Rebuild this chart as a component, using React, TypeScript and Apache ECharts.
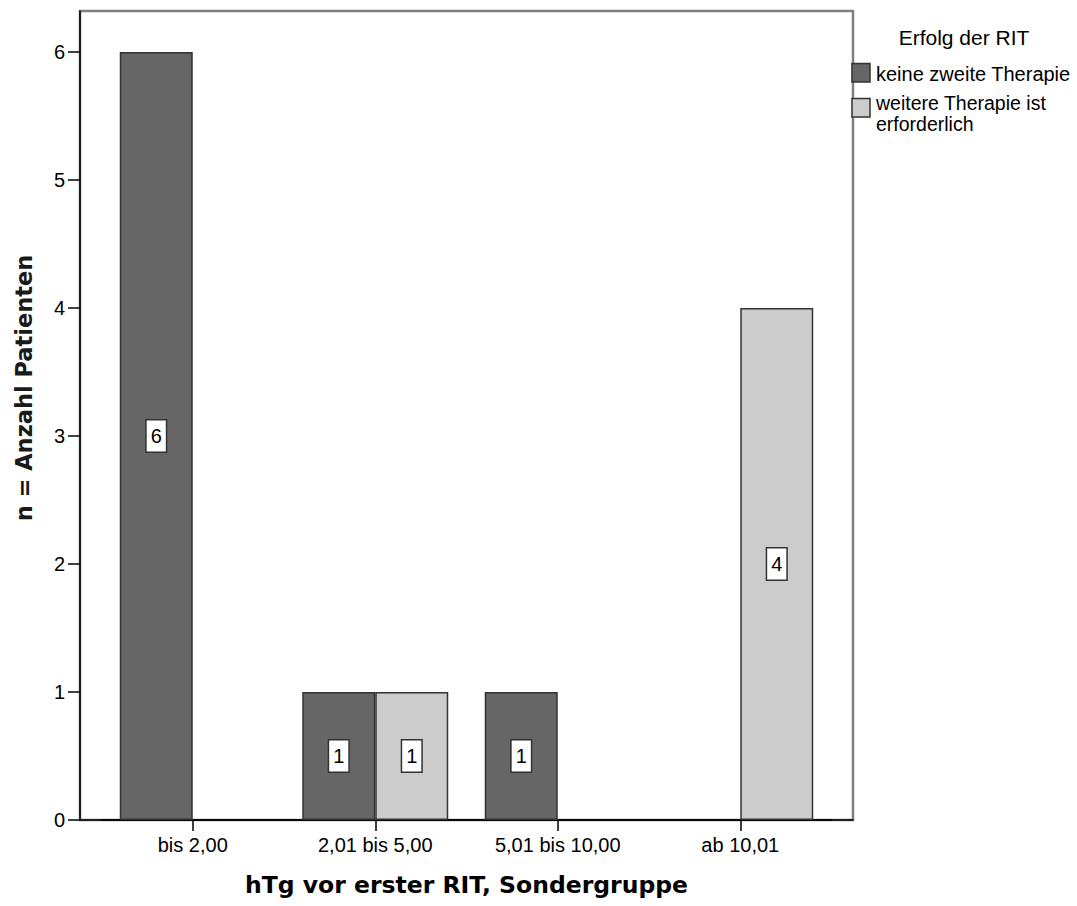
import React, { useEffect, useRef } from "react";
import * as echarts from "echarts";

// Categories of hTg before the first RIT (special group)
const categories = ["bis 2,00", "2,01 bis 5,00", "5,01 bis 10,00", "ab 10,01"];
// Patient counts per outcome; null = no bar in that category
const keineZweiteTherapie: (number | null)[] = [6, 1, 1, null];
const weitereTherapie: (number | null)[] = [null, 1, null, 4];
const seriesNames = ["keine zweite Therapie", "weitere Therapie ist\nerforderlich"];
const yTicks = [0, 1, 2, 3, 4, 5, 6];

const SANS = '"Liberation Sans", Arial, sans-serif';
const BOLD = '"DejaVu Sans", sans-serif';
const DARK = "#666666";
const LIGHT = "#cccccc";

const labelStyle = {
  show: true,
  position: "inside",
  formatter: "{c}",
  color: "#000",
  fontFamily: SANS,
  fontSize: 20,
  backgroundColor: "#ffffff",
  borderColor: "#333333",
  borderWidth: 1.5,
  padding: [6, 4, 5, 4],
};

export default function App() {
  const ref = useRef<HTMLDivElement>(null);

  useEffect(() => {
    if (!ref.current) return;
    const chart = echarts.init(ref.current, null, { renderer: "svg" });
    chart.setOption({
      animation: false,
      backgroundColor: "#ffffff",
      textStyle: { fontFamily: SANS },
      grid: [
        { left: 101.5, top: 11, width: 730, height: 809, outerBoundsMode: "none", containLabel: false },
        {
          left: 80, top: 11, width: 773, height: 809, outerBoundsMode: "none", containLabel: false,
          show: true, borderColor: "#808080", borderWidth: 2.5, backgroundColor: "transparent",
        },
      ],
      xAxis: [
        {
          type: "category",
          gridIndex: 0,
          data: categories,
          axisLine: { show: true, lineStyle: { color: "#000", width: 1.5 } },
          axisTick: { show: true, alignWithLabel: true, length: 11, lineStyle: { color: "#000", width: 1.5 } },
          axisLabel: { color: "#000", fontFamily: SANS, fontSize: 20, margin: 15 },
          splitLine: { show: false },
          name: "hTg vor erster RIT, Sondergruppe",
          nameLocation: "middle",
          nameGap: 53,
          nameTextStyle: { color: "#000", fontFamily: BOLD, fontWeight: "bold", fontSize: 23.5 },
        },
        {
          type: "value",
          gridIndex: 1,
          min: 0,
          max: 1,
          axisLine: { show: true, onZero: false, lineStyle: { color: "#000", width: 1.5 } },
          axisTick: { show: false },
          axisLabel: { show: false },
          splitLine: { show: false },
        },
      ],
      yAxis: [
        {
          type: "value",
          gridIndex: 0,
          min: 0,
          max: 6.32,
          interval: 1,
          offset: 21.5,
          axisLine: { show: true, lineStyle: { color: "#000", width: 1.5 } },
          axisTick: { show: true, length: 12, customValues: yTicks, lineStyle: { color: "#000", width: 1.5 } },
          axisLabel: { color: "#000", fontFamily: SANS, fontSize: 20, margin: 15, customValues: yTicks },
          splitLine: { show: false },
        },
        { type: "value", gridIndex: 1, show: false, min: 0, max: 1 },
      ],
      series: [
        {
          name: seriesNames[0],
          type: "bar",
          xAxisIndex: 0,
          yAxisIndex: 0,
          data: keineZweiteTherapie.map((v) => (v === null ? "-" : v)),
          barGap: "0%",
          barCategoryGap: "20%",
          itemStyle: { color: DARK, borderColor: "#333333", borderWidth: 1.5 },
          label: labelStyle,
        },
        {
          name: seriesNames[1],
          type: "bar",
          xAxisIndex: 0,
          yAxisIndex: 0,
          data: weitereTherapie.map((v) => (v === null ? "-" : v)),
          barGap: "0%",
          barCategoryGap: "20%",
          itemStyle: { color: LIGHT, borderColor: "#333333", borderWidth: 1.5 },
          label: labelStyle,
        },
      ],
      graphic: [
        {
          type: "text",
          x: 24,
          y: 388,
          rotation: Math.PI / 2,
          style: {
            text: "n = Anzahl Patienten",
            fill: "#1a1a1a",
            font: `bold 22.5px ${BOLD}`,
            align: "center",
            verticalAlign: "middle",
          },
        },
        {
          type: "text",
          x: 964,
          y: 37,
          style: { text: "Erfolg der RIT", fill: "#000", font: `21px ${SANS}`, align: "center", verticalAlign: "middle" },
        },
        {
          type: "rect",
          shape: { x: 852, y: 63.5, width: 18, height: 18.5 },
          style: { fill: DARK, stroke: "#333333", lineWidth: 1.5 },
        },
        {
          type: "text",
          x: 876,
          y: 74,
          style: { text: seriesNames[0], fill: "#000", font: `20px ${SANS}`, verticalAlign: "middle" },
        },
        {
          type: "rect",
          shape: { x: 852, y: 98.5, width: 18, height: 18.5 },
          style: { fill: LIGHT, stroke: "#333333", lineWidth: 1.5 },
        },
        {
          type: "text",
          x: 876,
          y: 92,
          style: {
            text: seriesNames[1],
            fill: "#000",
            font: `19.5px ${SANS}`,
            lineHeight: 21,
            verticalAlign: "top",
          },
        },
      ],
    });
    return () => chart.dispose();
  }, []);

  return (
    <div
      ref={ref}
      style={{ position: "fixed", left: 0, top: 0, width: 1077, height: 906 }}
    />
  );
}
